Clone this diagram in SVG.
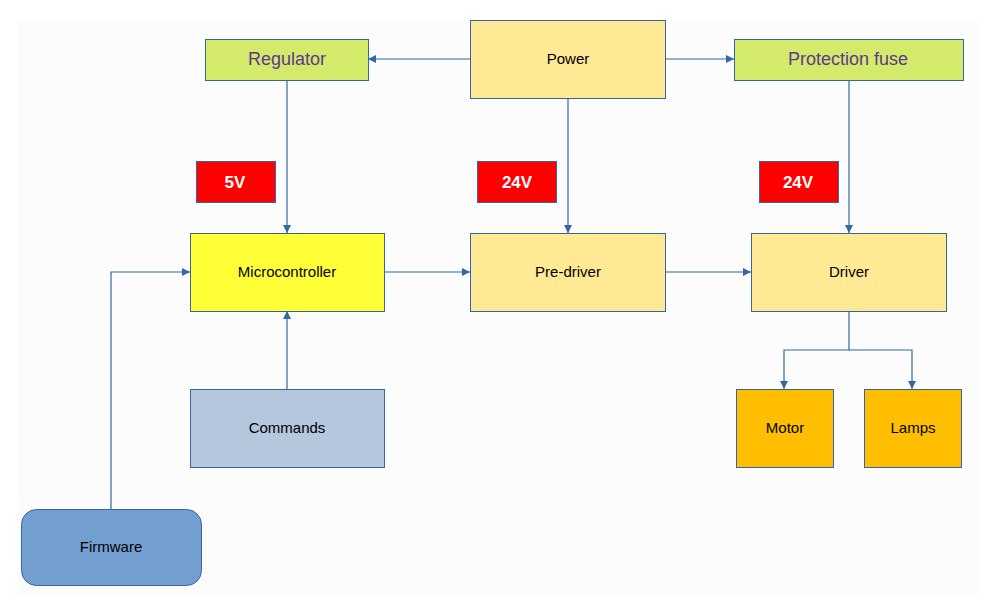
<svg xmlns="http://www.w3.org/2000/svg" width="984" height="606" viewBox="0 0 984 606">
<style>
.n{stroke:#3465a4;stroke-width:1}
.t{font-family:"Liberation Sans",Arial,sans-serif;font-size:15px;fill:#000;text-anchor:middle;dominant-baseline:central}
.tg{font-family:"Liberation Sans",Arial,sans-serif;font-size:18px;fill:#5b3a8c;text-anchor:middle;dominant-baseline:central}
.tv{font-family:"Liberation Sans",Arial,sans-serif;font-size:17px;font-weight:bold;fill:#fff;text-anchor:middle;dominant-baseline:central}
.c{fill:none;stroke:#3465a4;stroke-width:1.2;marker-end:url(#a)}
</style>
<defs>
<marker id="a" viewBox="0 0 10 10" refX="10" refY="5" markerWidth="10" markerHeight="8" markerUnits="userSpaceOnUse" orient="auto">
<path d="M0,0 L10,5 L0,10 Z" fill="#3465a4"/>
</marker>
</defs>
<rect x="0" y="0" width="984" height="606" fill="#fff"/>
<rect x="18" y="20" width="962" height="576" fill="#fcfcfc"/>
<g id="connectors">
<path class="c" d="M470,59 H368"/>
<path class="c" d="M665,59 H734"/>
<path class="c" d="M287,80 V233"/>
<path class="c" d="M568,98 V233"/>
<path class="c" d="M849,80 V233"/>
<path class="c" d="M384,272 H470"/>
<path class="c" d="M665,272 H751"/>
<path class="c" d="M287,389 V311"/>
<path class="c" d="M111,509 V272 H190"/>
<path class="c" d="M849,311 V350 H784 V389"/>
<path class="c" d="M849,350 H912 V389"/>
</g>
<g id="regulator"><rect class="n" x="205.5" y="39.5" width="163" height="41" fill="#d4ea6b"/><text class="tg" x="287" y="59">Regulator</text></g>
<g id="power"><rect class="n" x="470.5" y="20.5" width="195" height="78" fill="#ffe994"/><text class="t" x="568" y="58">Power</text></g>
<g id="fuse"><rect class="n" x="734.5" y="39.5" width="229" height="41" fill="#d4ea6b"/><text class="tg" x="848" y="59">Protection fuse</text></g>
<g id="v5"><rect class="n" x="196.5" y="161.5" width="79" height="41" fill="#ff0000"/><text class="tv" x="235" y="182">5V</text></g>
<g id="v24a"><rect class="n" x="477.5" y="161.5" width="79" height="41" fill="#ff0000"/><text class="tv" x="517" y="182">24V</text></g>
<g id="v24b"><rect class="n" x="759.5" y="161.5" width="79" height="41" fill="#ff0000"/><text class="tv" x="798" y="182">24V</text></g>
<g id="micro"><rect class="n" x="190.5" y="233.5" width="194" height="78" fill="#ffff38"/><text class="t" x="287" y="271">Microcontroller</text></g>
<g id="predriver"><rect class="n" x="470.5" y="233.5" width="195" height="78" fill="#ffe994"/><text class="t" x="568" y="271">Pre-driver</text></g>
<g id="driver"><rect class="n" x="751.5" y="233.5" width="195" height="78" fill="#ffe994"/><text class="t" x="849" y="271">Driver</text></g>
<g id="commands"><rect class="n" x="190.5" y="389.5" width="194" height="78" fill="#b4c7dc"/><text class="t" x="287" y="427">Commands</text></g>
<g id="motor"><rect class="n" x="736.5" y="389.5" width="97" height="78" fill="#ffbf00"/><text class="t" x="785" y="427">Motor</text></g>
<g id="lamps"><rect class="n" x="864.5" y="389.5" width="97" height="78" fill="#ffbf00"/><text class="t" x="913" y="427">Lamps</text></g>
<g id="firmware"><rect class="n" x="21.5" y="509.5" width="180" height="76" rx="15" fill="#729fcf"/><text class="t" x="111" y="546">Firmware</text></g>
</svg>
